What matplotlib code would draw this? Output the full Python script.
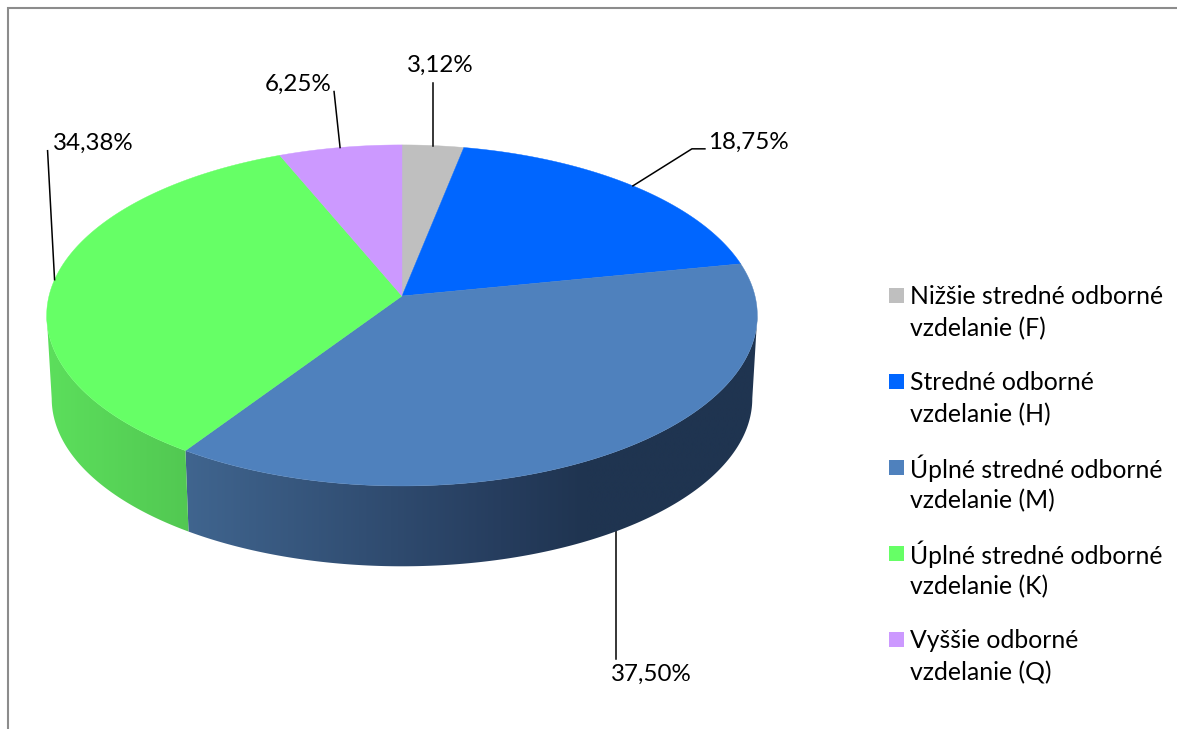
import numpy as np
import matplotlib
matplotlib.use('Agg')
import matplotlib.pyplot as plt
from matplotlib.colors import LinearSegmentedColormap
from matplotlib.patches import Polygon

plt.rcParams['font.family'] = ['Lato', 'DejaVu Sans']

values = [3.12, 18.75, 37.50, 34.38, 6.25]
legend_labels = [
    'Nižšie stredné odborné\nvzdelanie (F)',
    'Stredné odborné\nvzdelanie (H)',
    'Úplné stredné odborné\nvzdelanie (M)',
    'Úplné stredné odborné\nvzdelanie (K)',
    'Vyššie odborné\nvzdelanie (Q)',
]
colors = ['#bfbfbf', '#0066ff', '#4f81bd', '#66ff66', '#cc99ff']

FONT = 17.4
LEGEND_FONT = 17.8


def top_pt(t):
    # t in radians, clockwise from the back of the pie, with perspective
    u, v = np.sin(t), np.cos(t)
    w = 1 + 0.114 * v
    return 402 + 353 * u / w, 296 - 168.3 * v / w


def bottom_pt(t):
    u, v = np.sin(t), np.cos(t)
    w = 1 + 0.114 * v
    return 402 + 348 * u / w, 379.5 - 165.5 * v / w


fig = plt.figure(figsize=(11.77, 7.29), dpi=100)
ax = fig.add_axes([0, 0, 1, 1])
ax.axis('off')

# chart border (only top and left are visible in the crop)
ax.plot([7.5, 7.5, 1177], [729, 8, 8], color='#8c8c8c', lw=1.5, solid_joinstyle='miter')

edges = np.cumsum([0] + values) / sum(values) * 2 * np.pi

# angles where each rim turns round, the side wall only shows between them
grid = np.linspace(0, 2 * np.pi, 2000)
right_top = grid[np.argmax(top_pt(grid)[0])]
left_top = grid[np.argmin(top_pt(grid)[0])]
right_bot = grid[np.argmax(bottom_pt(grid)[0])]
left_bot = grid[np.argmin(bottom_pt(grid)[0])]

# side walls, shaded left to right
sides = [
    (2, right_top, edges[3], right_bot, edges[3], 184, 760, [(0, '#40658f'), (0.55, '#263d5e'), (0.7, '#1f3450'), (1, '#1f3450')]),
    (3, edges[3], left_top, edges[3], left_bot, 46, 190, [(0, '#5cdf5c'), (1, '#52c852')]),
]
for i, t0, t1, b0, b1, x0, x1, stops in sides:
    tx, ty = top_pt(np.linspace(t0, t1, 300))
    bx, by = bottom_pt(np.linspace(b0, b1, 300))
    outline = np.column_stack([np.r_[tx, bx[::-1]], np.r_[ty, by[::-1]]])
    cmap = LinearSegmentedColormap.from_list(f'side{i}', stops)
    im = ax.imshow(np.linspace(0, 1, 512)[None, :], extent=[x0, x1, 600, 250], cmap=cmap,
                   aspect='auto', interpolation='bilinear', zorder=2)
    clip = Polygon(outline, closed=True, transform=ax.transData, facecolor='none', edgecolor='none')
    ax.add_patch(clip)
    im.set_clip_path(clip)

# top face
for i in range(len(values)):
    t = np.linspace(edges[i], edges[i + 1], 200)
    x, y = top_pt(t)
    ax.fill(np.r_[402, x], np.r_[296, y], color=colors[i], lw=0.3, zorder=3)

# data labels: offsets of the leader from the slice edge, then text position
leaders = [
    ([(0, -63)], (440, 65), 'center'),
    ([(59, -37), (72, -37)], (708, 142), 'left'),
    ([(0, 128)], (651, 674), 'center'),
    ([(-7, -129)], (53, 143), 'left'),
    ([(-6, -56)], (298, 84), 'center'),
]
for i, (steps, pos, ha) in enumerate(leaders):
    mid = (edges[i] + edges[i + 1]) / 2
    x0, y0 = bottom_pt(mid) if i == 2 else top_pt(mid)
    xs = [x0] + [x0 + s[0] for s in steps]
    ys = [y0] + [y0 + s[1] for s in steps]
    ax.plot(xs, ys, color='black', lw=1.1, zorder=1 if i == 2 else 4)
    ax.text(pos[0], pos[1], f'{values[i]:.2f}%'.replace('.', ','), ha=ha, va='center',
            fontsize=FONT, color='black', zorder=5)

# legend
for i, lab in enumerate(legend_labels):
    y = 296 + 86 * i
    ax.fill([889, 904, 904, 889], [y - 8, y - 8, y + 7, y + 7], color=colors[i], lw=0)
    line1, line2 = lab.split('\n')
    ax.text(910, y, line1, ha='left', va='center', fontsize=LEGEND_FONT, color='black')
    ax.text(910, y + 33, line2, ha='left', va='center', fontsize=LEGEND_FONT, color='black')

ax.set_xlim(0, 1177)
ax.set_ylim(729, 0)

fig.savefig('out.png', dpi=100)
